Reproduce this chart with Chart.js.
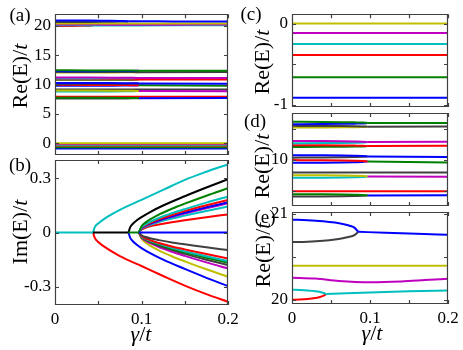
<!DOCTYPE html>
<html>
<head>
<meta charset="utf-8">
<script src="https://cdn.jsdelivr.net/npm/chart.js@4"></script>
<style>
body { margin: 0; background: #fff; }
#fig { position: relative; width: 463px; height: 350px; font-family: 'Liberation Serif', serif; color: #000; overflow: hidden; }
#fig canvas { position: absolute; left: 0; top: 0; }
.lab { position: absolute; white-space: nowrap; font-size: 22px; line-height: 1; transform: translate(-50%, -50%); }
.rot { transform: translate(-50%, -50%) rotate(-90deg); }
.pl { font-size: 19px; }
</style>
</head>
<body>
<div id="fig">
  <canvas id="pa" width="463" height="350"></canvas>
  <canvas id="pb" width="463" height="350"></canvas>
  <canvas id="pc" width="463" height="350"></canvas>
  <canvas id="pd" width="463" height="350"></canvas>
  <canvas id="pe" width="463" height="350"></canvas>

  <div class="lab pl" style="left:20px;top:14px">(a)</div>
  <div class="lab pl" style="left:20px;top:164px">(b)</div>
  <div class="lab pl" style="left:251px;top:13px">(c)</div>
  <div class="lab pl" style="left:255px;top:120px">(d)</div>
  <div class="lab pl" style="left:265px;top:216px">(e)</div>

  <div class="lab rot" style="left:20px;top:76px">Re(E)/<i>t</i></div>
  <div class="lab rot" style="left:20px;top:232px">Im(E)/<i>t</i></div>
  <div class="lab rot" style="left:262px;top:62px">Re(E)/<i>t</i></div>
  <div class="lab rot" style="left:262px;top:166px">Re(E)/<i>t</i></div>
  <div class="lab rot" style="left:263px;top:255px">Re(E)/<i>t</i></div>

  <div class="lab" style="left:141px;top:334px"><i>γ</i>/<i>t</i></div>
  <div class="lab" style="left:372px;top:333px"><i>γ</i>/<i>t</i></div>
</div>

<script>
// colours (matlab-ish)
const B = '#0000ff', R = '#ff0000', G = '#008000', C = '#00bfbf',
      M = '#bf00bf', Y = '#bfbf00', K = '#000000', D = '#404040';

// x axis, shared by all panels
const xTickVals = [0, 0.05, 0.1, 0.15, 0.2];
const xTickLabels = ['0', '', '0.1', '', '0.2'];
const gammaSpan = [0, 0.2];

// ---- low group near 0 (panel c)
const lowLevels = [0, -0.116, -0.252, -0.387, -0.659, -0.91];
const lowColors = [Y, M, C, R, G, B];

// ---- middle group 7.5..12.5 (panel d): pairs meeting at gamma ~ 0.097
const gPair = [0, 0.04, 0.065, 0.08, 0.09, 0.097];
const gMerged = [0.097, 0.2];
const pairUpper = [
  [12.43, 12.423, 12.411, 12.397, 12.383, 12.355],
  [12.17, 12.165, 12.156, 12.146, 12.136, 12.115],
  [11.2, 11.193, 11.181, 11.167, 11.153, 11.125],
  [10.92, 10.915, 10.906, 10.896, 10.886, 10.865],
  [10.28, 10.273, 10.259, 10.245, 10.23, 10.2],
  [9.96, 9.952, 9.938, 9.923, 9.907, 9.875],
  [8.99, 8.982, 8.968, 8.953, 8.937, 8.905],
  [7.76, 7.753, 7.741, 7.727, 7.713, 7.685]
];
const pairLower = [
  [12.28, 12.287, 12.299, 12.313, 12.327, 12.355],
  [12.06, 12.065, 12.074, 12.084, 12.094, 12.115],
  [11.05, 11.057, 11.069, 11.083, 11.097, 11.125],
  [10.81, 10.815, 10.824, 10.834, 10.844, 10.865],
  [10.12, 10.127, 10.141, 10.155, 10.17, 10.2],
  [9.79, 9.798, 9.812, 9.827, 9.843, 9.875],
  [8.82, 8.828, 8.842, 8.857, 8.873, 8.905],
  [7.61, 7.617, 7.629, 7.643, 7.657, 7.685]
];
const pairMerged = [
  [12.355, 12.35], [12.115, 12.13], [11.125, 11.14], [10.865, 10.88],
  [10.2, 10.16], [9.875, 9.8], [8.905, 8.88], [7.685, 7.7]
];
const pairColors = [[G, B, G], [D, Y, D], [M, C, M], [R, G, R],
                    [B, D, B], [R, B, G], [Y, C, M], [G, D, B]];
const midFlat = [9.16, 7.95];
const midFlatColors = [D, R];

// ---- top group 20..21 (panel e)
const gTop = [0, 0.02, 0.04, 0.055, 0.065, 0.075, 0.08, 0.085];
const topBlue = [20.93, 20.925, 20.913, 20.897, 20.881, 20.857, 20.838, 20.79];
const topBlack = [20.67, 20.674, 20.685, 20.7, 20.715, 20.735, 20.75, 20.79];
const gTopAfter = [0.085, 0.12, 0.16, 0.2];
const topBlueAfter = [20.79, 20.778, 20.766, 20.755];
const gLow = [0, 0.01, 0.02, 0.03, 0.036, 0.04, 0.044];
const topCyan = [20.115, 20.113, 20.108, 20.099, 20.09, 20.081, 20.066];
const topRed = [20.0, 20.002, 20.008, 20.02, 20.031, 20.044, 20.066];
const gLowAfter = [0.044, 0.07, 0.1, 0.15, 0.2];
const topCyanAfter = [20.066, 20.076, 20.085, 20.098, 20.107];
const gMag = [0, 0.03, 0.06, 0.1, 0.14, 0.17, 0.2];
const topMagenta = [20.256, 20.246, 20.218, 20.203, 20.212, 20.228, 20.245];
const topYellow = 20.394;

// ---- imaginary parts (panel b)
const zeroBreaks = [0, 0.044, 0.085, 0.097, 0.2];
const zeroColors = [C, K, G, B];
const gBig = [0.044, 0.046, 0.05, 0.06, 0.075, 0.1, 0.125, 0.15, 0.175, 0.2];
const imCyanUp = [0, 0.03, 0.05, 0.085, 0.125, 0.18, 0.235, 0.29, 0.335, 0.376];
const imRedDown = [0, -0.03, -0.052, -0.088, -0.13, -0.185, -0.24, -0.293, -0.34, -0.382];
const gMid = [0.085, 0.087, 0.09, 0.095, 0.1, 0.11, 0.125, 0.15, 0.175, 0.2];
const imBlackUp = [0, 0.03, 0.048, 0.069, 0.085, 0.113, 0.149, 0.2, 0.248, 0.294];
const imBlueDown = [0, -0.03, -0.048, -0.069, -0.086, -0.114, -0.15, -0.201, -0.25, -0.296];
const gEp = [0.097, 0.1, 0.105, 0.11, 0.12, 0.135, 0.15, 0.175, 0.2];
const imBranches = [
  [0, 0.034, 0.056, 0.072, 0.099, 0.131, 0.159, 0.203, 0.244],
  [0, 0.028, 0.046, 0.059, 0.08, 0.106, 0.129, 0.165, 0.198],
  [0, 0.025, 0.041, 0.053, 0.073, 0.096, 0.118, 0.15, 0.18],
  [0, 0.023, 0.038, 0.049, 0.067, 0.09, 0.109, 0.139, 0.167],
  [0, 0.022, 0.037, 0.048, 0.065, 0.086, 0.105, 0.134, 0.161],
  [0, 0.02, 0.033, 0.042, 0.058, 0.077, 0.093, 0.119, 0.143],
  [0, 0.016, 0.027, 0.034, 0.044, 0.057, 0.067, 0.084, 0.1],
  [0, -0.015, -0.025, -0.032, -0.042, -0.055, -0.065, -0.082, -0.097],
  [0, -0.02, -0.033, -0.042, -0.058, -0.077, -0.093, -0.119, -0.143],
  [0, -0.022, -0.036, -0.046, -0.063, -0.084, -0.103, -0.131, -0.157],
  [0, -0.023, -0.038, -0.049, -0.067, -0.09, -0.109, -0.139, -0.167],
  [0, -0.025, -0.041, -0.053, -0.073, -0.096, -0.118, -0.15, -0.18],
  [0, -0.028, -0.046, -0.059, -0.08, -0.106, -0.129, -0.165, -0.198],
  [0, -0.034, -0.056, -0.072, -0.099, -0.131, -0.159, -0.203, -0.244]
];
const imBranchColors = [G, C, R, B, M, C, R, D, R, C, G, D, M, Y];


// ============================
// helpers
// ============================

function pts(xs, ys) {
    return xs.map((x, i) => ({ x: x, y: Array.isArray(ys) ? ys[i] : ys }));
}

function line(xs, ys, color, width) {
    return {
        data: pts(xs, ys),
        borderColor: color,
        borderWidth: width || 2,
        showLine: true,
        pointRadius: 0,
        fill: false,
        cubicInterpolationMode: 'monotone'
    };
}

function lowSets() {
    return lowLevels.map((v, i) => line(gammaSpan, v, lowColors[i]));
}

function midSets() {
    const out = [];
    pairUpper.forEach((u, i) => {
        out.push(line(gMerged, pairMerged[i], pairColors[i][2]));
        out.push(line(gPair, u, pairColors[i][0]));
        out.push(line(gPair, pairLower[i], pairColors[i][1]));
    });
    midFlat.forEach((v, i) => out.push(line(gammaSpan, v, midFlatColors[i])));
    return out;
}

function topSets() {
    return [
        line(gTopAfter, topBlueAfter, B),
        line(gTop, topBlue, B),
        line(gTop, topBlack, D),
        line(gammaSpan, topYellow, Y),
        line(gMag, topMagenta, M),
        line(gLowAfter, topCyanAfter, C),
        line(gLow, topCyan, C),
        line(gLow, topRed, R)
    ];
}

function imSets() {
    const out = [];
    for (let i = zeroColors.length - 1; i >= 0; i--) {
        out.push(line([zeroBreaks[i], zeroBreaks[i + 1]], 0, zeroColors[i]));
    }
    out.push(line(gBig, imCyanUp, C));
    out.push(line(gBig, imRedDown, R));
    out.push(line(gMid, imBlackUp, K));
    out.push(line(gMid, imBlueDown, B));
    imBranches.forEach((v, i) => out.push(line(gEp, v, imBranchColors[i])));
    return out;
}


// box + inward ticks, matlab style
const framePlugin = {
    id: 'frame',
    afterDraw(chart) {
        const ctx = chart.ctx;
        const a = chart.chartArea;
        const sx = chart.scales.x, sy = chart.scales.y;
        ctx.save();
        ctx.strokeStyle = '#404040';
        ctx.lineWidth = 1.2;
        ctx.beginPath();
        ctx.rect(Math.round(a.left) + 0.5, Math.round(a.top) + 0.5,
                 Math.round(a.right - a.left) - 1, Math.round(a.bottom - a.top) - 1);
        sx.ticks.forEach(t => {
            const px = Math.round(sx.getPixelForValue(t.value)) + 0.5;
            ctx.moveTo(px, a.bottom); ctx.lineTo(px, a.bottom - 4);
            ctx.moveTo(px, a.top); ctx.lineTo(px, a.top + 4);
        });
        sy.ticks.forEach(t => {
            const py = Math.round(sy.getPixelForValue(t.value)) + 0.5;
            ctx.moveTo(a.left, py); ctx.lineTo(a.left + 4, py);
            ctx.moveTo(a.right, py); ctx.lineTo(a.right - 4, py);
        });
        ctx.stroke();
        ctx.restore();
    }
};

const tickFont = { family: 'Liberation Serif', size: 17 };

function makePanel(id, area, showX, yMin, yMax, yVals, yLabels, datasets) {
    const Y_W = 40, X_H = 22;
    new Chart(document.getElementById(id), {
        type: 'scatter',
        data: { datasets: datasets },
        options: {
            responsive: false,
            animation: false,
            events: [],
            layout: {
                padding: {
                    left: area.l - Y_W,
                    right: 463 - area.r,
                    top: area.t,
                    bottom: 350 - area.b - X_H
                }
            },
            plugins: { legend: { display: false }, tooltip: { enabled: false } },
            scales: {
                x: {
                    type: 'linear',
                    min: 0,
                    max: 0.2,
                    grid: { display: false, drawTicks: false },
                    border: { display: false },
                    afterBuildTicks: s => { s.ticks = xTickVals.map(v => ({ value: v })); },
                    afterFit: s => { s.height = X_H; },
                    ticks: {
                        display: showX,
                        padding: 4,
                        autoSkip: false,
                        maxRotation: 0,
                        color: '#000',
                        font: tickFont,
                        callback: (v, i) => xTickLabels[i]
                    }
                },
                y: {
                    type: 'linear',
                    min: yMin,
                    max: yMax,
                    grid: { display: false, drawTicks: false },
                    border: { display: false },
                    afterBuildTicks: s => { s.ticks = yVals.map(v => ({ value: v })); },
                    afterFit: s => { s.width = Y_W; },
                    ticks: {
                        padding: 4,
                        autoSkip: false,
                        color: '#000',
                        font: tickFont,
                        callback: (v, i) => yLabels[i]
                    }
                }
            }
        },
        plugins: [framePlugin]
    });
}


// ============================
// panels
// ============================

makePanel('pa', { l: 55, r: 228, t: 11, b: 155 }, false, -2, 22,
    [0, 5, 10, 15, 20], ['0', '5', '10', '15', '20'],
    [].concat(topSets(), midSets(), lowSets()));

makePanel('pb', { l: 55, r: 228, t: 160, b: 305 }, true, -0.4, 0.4,
    [-0.3, 0, 0.3], ['-0.3', '0', '0.3'],
    imSets());

makePanel('pc', { l: 292, r: 448, t: 9, b: 107 }, false, -1.025, 0.115,
    [-1, -0.5, 0], ['-1', '', '0'],
    lowSets());

makePanel('pd', { l: 292, r: 448, t: 113, b: 206 }, false, 7, 13,
    [8, 10, 12], ['', '10', ''],
    midSets());

makePanel('pe', { l: 292, r: 448, t: 212, b: 304 }, true, 19.95, 21.02,
    [20, 20.5, 21], ['20', '', '21'],
    topSets());
</script>
</body>
</html>
